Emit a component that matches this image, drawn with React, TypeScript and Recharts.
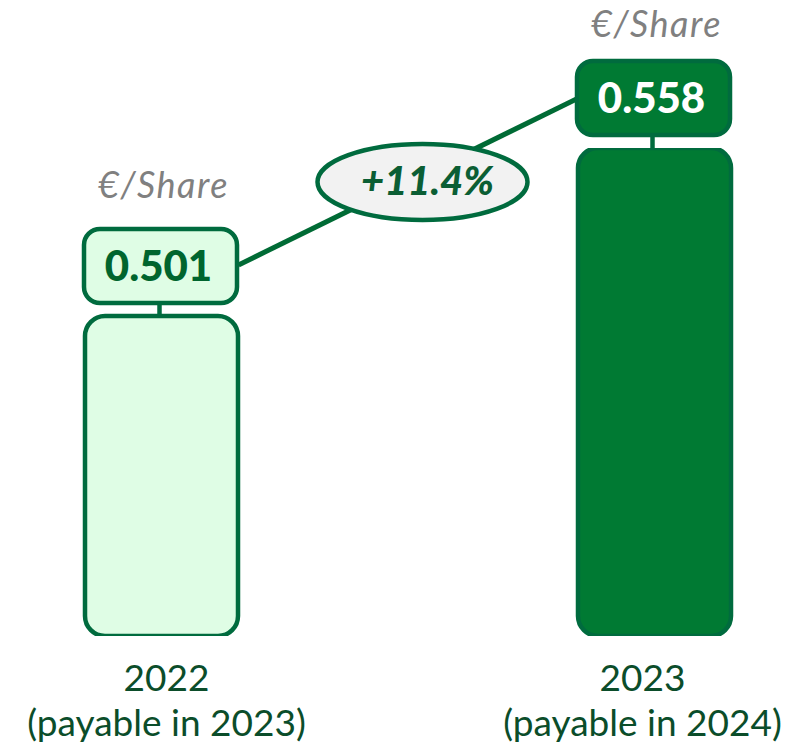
import React from 'react';
import { BarChart, Bar, XAxis, YAxis, Cell, LabelList, ReferenceLine } from 'recharts';

const years = ['2022', '2023'];
const payableLabels = ['(payable in 2023)', '(payable in 2024)'];
const dividends = [0.501, 0.558];
const growthLabel = '+11.4%';
const unitLabel = '€/Share';

const barFills = ['#DFFDE5', '#007A33'];
const barStrokes = ['#006B3E', '#006B3E'];
const valueColors = ['#00652E', '#FFFFFF'];

const data = years.map((y, i) => ({ year: y, payable: payableLabels[i], value: dividends[i] }));

const FONT = 'Lato, "Noto Sans", sans-serif';

const YearTick = (props: any) => {
  const { x, y, payload, index } = props;
  const shift = index === 0 ? 5 : -12;
  return (
    <g transform={`translate(${x + shift},${y})`}>
      <text textAnchor="middle" fontFamily={FONT} fontSize={37} fill="#0B4D2A">
        <tspan x={0} y={47}>{payload.value}</tspan>
        <tspan x={0} y={92}>{payableLabels[years.indexOf(payload.value)]}</tspan>
      </text>
    </g>
  );
};

const ValueBox = (props: any) => {
  const vb = props.viewBox || props;
  const { x, y, width } = vb;
  const index = props.index;
  const value = props.value;
  const cx = x + width / 2;
  const boxW = 153;
  const boxH = 74;
  const boxBottom = y - 13;
  const boxTop = boxBottom - boxH;
  const unitY = index === 0 ? boxTop - 31 : boxTop - 24;
  return (
    <g>
      <text x={cx + 2} y={unitY} textAnchor="middle" fontFamily={FONT} fontStyle="italic" fontSize={36} letterSpacing={1.5} fill="#808080">
        {unitLabel}
      </text>
      <line x1={cx - 2} x2={cx - 2} y1={boxBottom} y2={y} stroke="#006B3E" strokeWidth={4.5} />
      <rect x={cx - boxW / 2 - 1} y={boxTop} width={boxW} height={boxH} rx={16} ry={16}
        fill={barFills[index]} stroke={barStrokes[index]} strokeWidth={4.5} />
      <text x={cx - 3} y={boxTop + boxH / 2 + 15} textAnchor="middle" fontFamily={FONT} fontWeight={900} fontSize={42} fill={valueColors[index]}>
        {Number(value).toFixed(3)}
      </text>
    </g>
  );
};

const GrowthConnector = (props: any) => {
  const { x1, y1, x2, y2 } = props;
  const sx = x1 + 77;
  const sy = y1 - 51;
  const ex = x2 - 78;
  const ey = y2 - 49;
  const mx = (sx + ex) / 2 + 15;
  const my = (sy + ey) / 2;
  return (
    <g>
      <line x1={sx} y1={sy} x2={ex} y2={ey} stroke="#006B35" strokeWidth={5} />
      <ellipse cx={mx} cy={my} rx={105} ry={38} fill="#F2F2F2" stroke="#006B3E" strokeWidth={4.5} />
      <text x={mx + 5} y={my + 13} textAnchor="middle" fontFamily={FONT} fontWeight={900} fontStyle="italic" fontSize={40} fill="#0B5E34">
        {growthLabel}
      </text>
    </g>
  );
};

const App = () => {
  return (
    <div style={{ position: 'absolute', left: 0, top: 0, width: 794, height: 744, overflow: 'hidden', background: '#fff' }}>
      <div style={{ marginLeft: -85 }}>
        <BarChart width={986} height={744} data={data} margin={{ top: 148, right: 0, left: 0, bottom: 0 }}>
          <XAxis dataKey="year" axisLine={false} tickLine={false} height={108} interval={0} tick={<YearTick />} />
          <YAxis hide type="number" domain={[0.3924, 0.558]} allowDataOverflow />
          <ReferenceLine
            segment={[{ x: years[0], y: dividends[0] }, { x: years[1], y: dividends[1] }]}
            ifOverflow="visible"
            shape={(p: any) => <GrowthConnector {...p} />}
          />
          <Bar dataKey="value" barSize={153} radius={20} isAnimationActive={false} strokeWidth={4.5}>
            {data.map((d, i) => (
              <Cell key={d.year} fill={barFills[i]} stroke={barStrokes[i]} />
            ))}
            <LabelList dataKey="value" content={<ValueBox />} />
          </Bar>
        </BarChart>
      </div>
    </div>
  );
};

export default App;
